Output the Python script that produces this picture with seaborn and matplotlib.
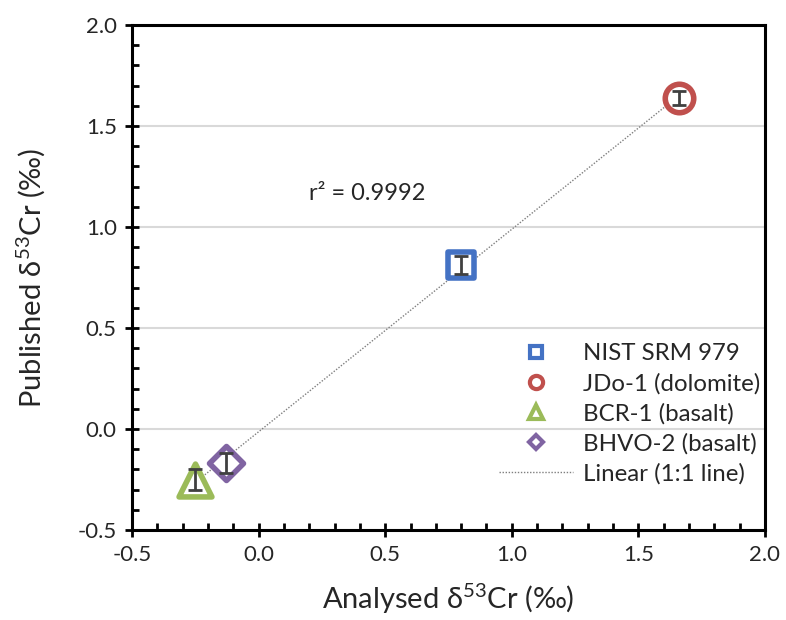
import numpy as np
import pandas as pd
import matplotlib
matplotlib.use("Agg")
import matplotlib.pyplot as plt
from matplotlib.lines import Line2D
from matplotlib.ticker import MultipleLocator, FormatStrFormatter
import seaborn as sns

samples = ["NIST SRM 979", "JDo-1 (dolomite)", "BCR-1 (basalt)", "BHVO-2 (basalt)"]
analysed = [0.80, 1.66, -0.25, -0.13]
published = [0.81, 1.64, -0.25, -0.17]
errors = [0.045, 0.035, 0.05, 0.05]
r2_label = "r² = 0.9992"

colors = ["#4472C4", "#C0504D", "#9BBB59", "#8064A2"]
markers = ["s", "o", "^", "D"]
sizes = [340, 420, 560, 300]
legend_sizes = [9, 9.5, 10, 7]

sns.set_style("white")
plt.rcParams["font.family"] = ["Lato", "DejaVu Sans"]
plt.rcParams["mathtext.fontset"] = "custom"
plt.rcParams["mathtext.rm"] = "Lato"
plt.rcParams["mathtext.it"] = "Lato:italic"

df = pd.DataFrame({"sample": samples, "analysed": analysed, "published": published, "err": errors})

fig = plt.figure(figsize=(7.86, 6.2), dpi=100)
ax = fig.add_axes([132 / 786, 90 / 620, (765 - 132) / 786, (530 - 25) / 620])

# trend line (1:1)
coef = np.polyfit(df["analysed"], df["published"], 1)
xs = np.array([df["analysed"].min(), df["analysed"].max()])
sns.lineplot(x=xs, y=np.polyval(coef, xs), ax=ax, color="#7f7f7f", lw=1.0,
             linestyle=(0, (1, 1.2)), zorder=2, legend=False)

for i, row in df.iterrows():
    sns.scatterplot(x=[row["analysed"]], y=[row["published"]], ax=ax, marker=markers[i],
                    s=sizes[i], facecolor="white", edgecolor=colors[i], linewidth=4,
                    zorder=3, legend=False)

ax.errorbar(df["analysed"], df["published"], yerr=df["err"], fmt="none",
            ecolor="#404040", elinewidth=2, capsize=5, capthick=2, zorder=4)

ax.set_xlim(-0.5, 2.0)
ax.set_ylim(-0.5, 2.0)
ax.xaxis.set_major_locator(MultipleLocator(0.5))
ax.yaxis.set_major_locator(MultipleLocator(0.5))
ax.xaxis.set_minor_locator(MultipleLocator(0.1))
ax.yaxis.set_minor_locator(MultipleLocator(0.1))
ax.xaxis.set_major_formatter(FormatStrFormatter("%.1f"))
ax.yaxis.set_major_formatter(FormatStrFormatter("%.1f"))
ax.tick_params(axis="both", which="major", direction="inout", length=10, width=2,
               labelsize=16, color="black", labelcolor="#262626", pad=6, bottom=True, left=True)
ax.tick_params(axis="both", which="minor", direction="in", length=5, width=2,
               color="black", bottom=True, left=True)
ax.grid(axis="y", which="major", color="#d9d9d9", lw=1.5)
ax.set_axisbelow(True)
for sp in ax.spines.values():
    sp.set_color("black")
    sp.set_linewidth(2.2)

ax.set_xlabel("Analysed δ$^{53}$Cr (‰)", fontsize=21, labelpad=12, color="#262626")
ax.set_ylabel("Published δ$^{53}$Cr (‰)", fontsize=21, labelpad=22, color="#262626")

ax.text(0.20, 1.165, r2_label, fontsize=17, va="center", ha="left", color="#262626")

handles = [Line2D([], [], marker=m, color=c, linestyle="none", markersize=ms,
                  markerfacecolor="white", markeredgewidth=3)
           for m, c, ms in zip(markers, colors, legend_sizes)]
handles.append(Line2D([], [], color="#7f7f7f", lw=1.0, linestyle=(0, (1, 1.2))))
labels = samples + ["Linear (1:1 line)"]
leg = ax.legend(handles, labels, loc="lower right", bbox_to_anchor=(1.0, 0.08), frameon=False,
                fontsize=17.3, handlelength=3.1, handletextpad=0.4, labelspacing=0.36,
                borderaxespad=0.0, borderpad=0.2)
for t in leg.get_texts():
    t.set_color("#262626")

fig.savefig("out.png", dpi=100)
